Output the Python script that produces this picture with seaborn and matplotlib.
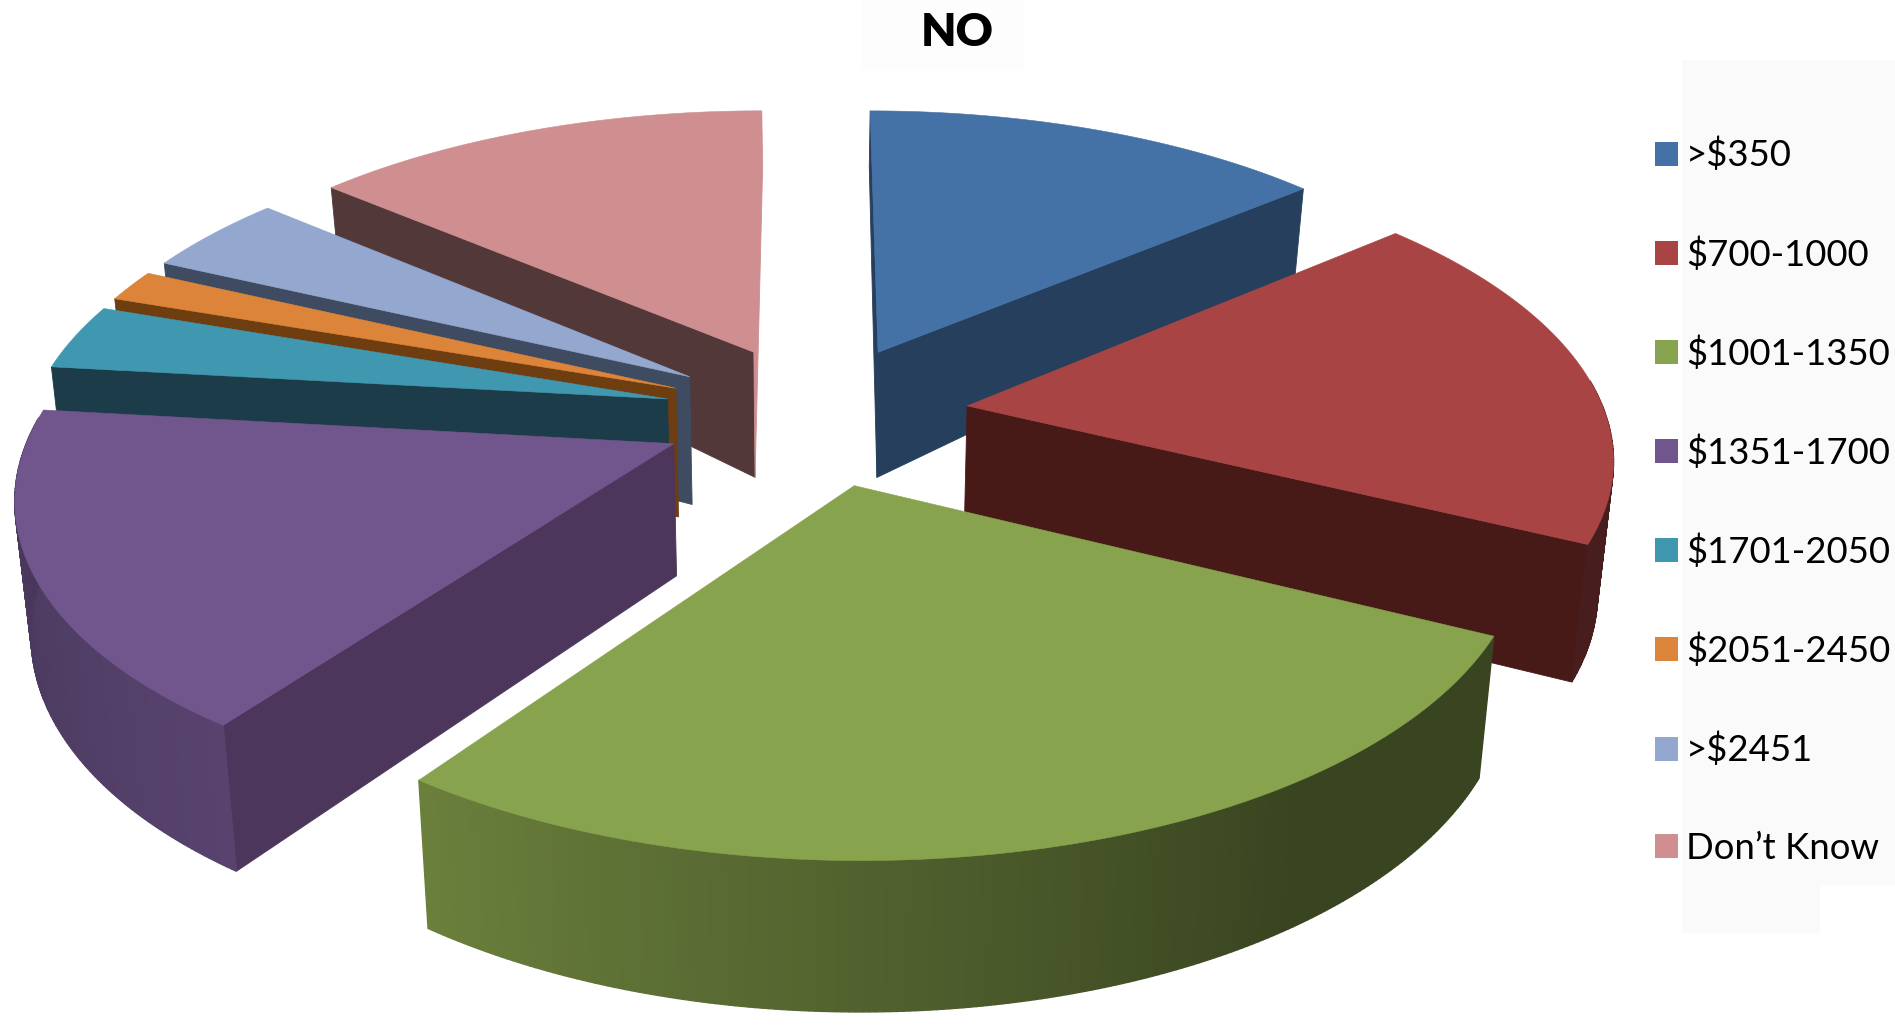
import numpy as np
import matplotlib
matplotlib.use("Agg")
import matplotlib.pyplot as plt
from matplotlib.patches import Patch, Rectangle
import seaborn as sns

title = "NO"
categories = [">$350", "$700-1000", "$1001-1350", "$1351-1700",
              "$1701-2050", "$2051-2450", ">$2451", "Don\u2019t Know"]
shares = [13.8, 18.5, 27.6, 16.9, 3.5, 1.7, 4.3, 13.7]
top_hex = ["#4472A6", "#A84544", "#88A34D", "#70568D",
           "#4098B0", "#DC843A", "#93A7CF", "#CF8E8F"]
side_hex = ["#253F5C", "#471A18", "#343F1A", "#4C365C",
            "#1B3C48", "#6E3D10", "#3F4B60", "#53383A"]

sns.set_theme(style="white")
plt.rcParams["font.family"] = ["Lato", "DejaVu Sans"]
top_colors = sns.color_palette(top_hex)
side_colors = sns.color_palette(side_hex)

# projection of the 3D pie (in units of the 1568 px wide preview)
S = 1895 / 1568
CX, CY, AX_, BY_, P, Q, EXPLODE, START = 675, 343, 528, 244, 0.15, 0.02, 0.24, 0.0


def project(x, y, z):
    x, y, z = np.asarray(x, float), np.asarray(y, float), np.asarray(z, float)
    w = 1 + P * y
    h = 108 - 14 * y - 30 * np.clip(y, 0, None) ** 2
    return (CX + AX_ * x / (w - Q * z)) * S, (CY - BY_ * y / w - h * z) * S


def polar(theta):
    t = np.radians(theta)
    return np.sin(t), np.cos(t)


def area(xs, ys):
    # signed area with y pointing up
    xs, ys = np.asarray(xs), -np.asarray(ys)
    return 0.5 * np.sum(xs * np.roll(ys, -1) - np.roll(xs, -1) * ys)


fig = plt.figure(figsize=(18.95, 10.28), dpi=100)
ax = fig.add_axes([0, 0, 1, 1])
ax.set_xlim(0, 1895)
ax.set_ylim(1028, 0)
ax.axis("off")

ax.add_patch(Rectangle((1682, 60), 213, 825, fc="#FAFAFA", ec="none", zorder=0))
ax.add_patch(Rectangle((1682, 885), 138, 48, fc="#FAFAFA", ec="none", zorder=0))
ax.add_patch(Rectangle((862, 0), 162, 70, fc="#FDFDFD", ec="none", zorder=0))

edges = START + 360 * np.cumsum([0] + shares) / np.sum(shares)
wedges = []
for i in range(len(shares)):
    t0, t1 = edges[i], edges[i + 1]
    mid = (t0 + t1) / 2
    ax0, ay0 = polar(mid)
    wedges.append((ay0, i, t0, t1, EXPLODE * ax0, EXPLODE * ay0))

z_order = 2
for _, i, t0, t1, ox, oy in sorted(wedges, key=lambda w: -w[0]):
    th = np.linspace(t0, t1, max(int((t1 - t0) * 2), 6))
    px, py = polar(th)
    px, py = px + ox, py + oy
    # radial side faces
    for theta, sign in ((t0, 1), (t1, -1)):
        ex, ey = polar(theta)
        ex, ey = ex + ox, ey + oy
        qx, qy = project([ox, ex, ex, ox], [oy, ey, ey, oy], [0, 0, -1, -1])
        a = area(qx, qy) * sign
        if a > 0:
            # a face seen almost edge-on catches the light
            col = top_colors[i] if sign < 0 and a < 8000 else side_colors[i]
            ax.fill(qx, qy, color=col, lw=0.6, zorder=z_order)
    # outer rim, shaded by direction
    for k in range(len(th) - 1):
        mid_t = (th[k] + th[k + 1]) / 2 % 360
        if not 85 < mid_t < 275:
            continue
        qx, qy = project([px[k], px[k + 1], px[k + 1], px[k]],
                         [py[k], py[k + 1], py[k + 1], py[k]], [0, 0, -1, -1])
        f = np.interp(mid_t, [85, 145, 215, 275], [0.42, 0.42, 0.78, 0.62])
        col = tuple(c * f for c in top_colors[i])
        ax.fill(qx, qy, color=col, lw=1.0, zorder=z_order)
    # top face
    qx, qy = project(np.r_[ox, px], np.r_[oy, py], np.zeros(len(px) + 1))
    ax.fill(qx, qy, color=top_colors[i], lw=0.4, zorder=z_order + 0.5)
    z_order += 1

ax.text(957, 33, title, ha="center", va="center", fontsize=33, fontweight="heavy",
        color="black", family=["Lato", "DejaVu Sans"])

handles = [Patch(fc=c, ec="none", label=l) for c, l in zip(top_colors, categories)]
ax.legend(handles=handles, loc="upper left", bbox_to_anchor=(1655 / 1895, 1 - 138 / 1028),
          bbox_transform=fig.transFigure, frameon=False, fontsize=26.3, labelspacing=1.77,
          handlelength=0.63, handleheight=0.63, handletextpad=0.22, borderpad=0, borderaxespad=0,
          labelcolor="black")

fig.savefig("out.png", dpi=100)
